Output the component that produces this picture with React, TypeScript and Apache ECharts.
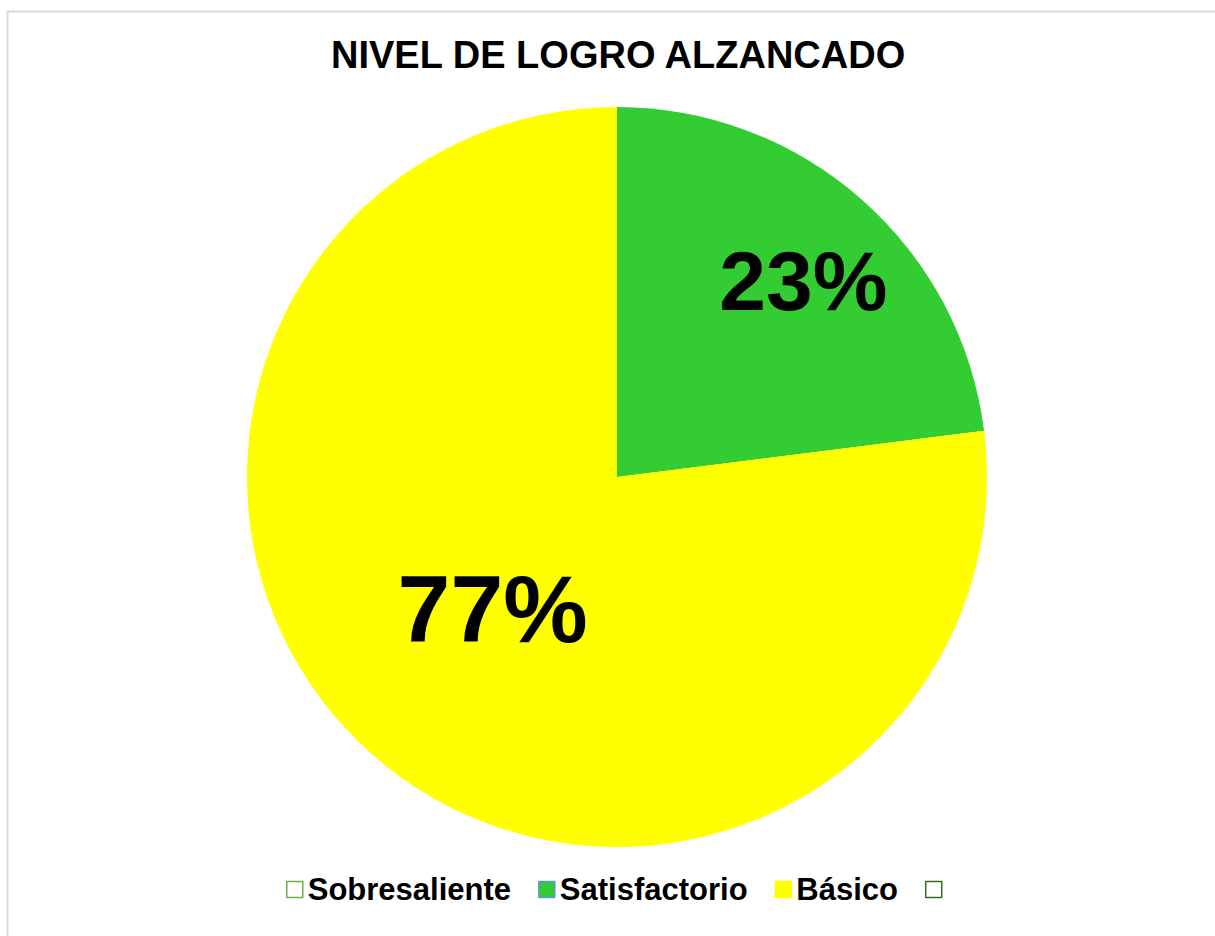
import React, { useEffect, useRef } from "react";
import * as echarts from "echarts";

const titleText = "NIVEL DE LOGRO ALZANCADO";
const categories = ["Sobresaliente", "Satisfactorio", "Básico", " "];
const values = [0, 23, 77, 0];
const fillColors = ["#FFFFFF", "#33CC33", "#FFFF00", "#FFFFFF"];
const legendBorders = ["#70AD47", "#5B9BD5", "#FFFF00", "#3B6B2A"];
const labelSizes = [0, 84, 95, 0];

export default function App() {
  const ref = useRef<HTMLDivElement>(null);
  useEffect(() => {
    if (!ref.current) return;
    const chart = echarts.init(ref.current, null, { renderer: "svg" });
    const font = "'Liberation Sans', Arial, sans-serif";
    chart.setOption({
      animation: false,
      backgroundColor: "#FFFFFF",
      graphic: [
        {
          type: "rect",
          shape: { x: 7.5, y: 11.5, width: 1300, height: 1000 },
          style: { fill: "none", stroke: "#D9D9D9", lineWidth: 2 },
          silent: true,
          z: -10,
        },
      ],
      title: {
        text: titleText,
        left: 326,
        top: 31,
        padding: 5,
        textStyle: {
          fontFamily: font,
          fontWeight: "bold",
          fontSize: 38,
          color: "#000000",
        },
      },
      legend: {
        top: 869,
        left: 281,
        padding: 5,
        itemWidth: 16,
        itemHeight: 16,
        itemGap: 27,
        icon: "rect",
        selectedMode: false,
        textStyle: {
          fontFamily: font,
          fontWeight: "bold",
          fontSize: 31,
          color: "#000000",
        },
        data: categories.map((name, i) => ({
          name,
          itemStyle: {
            color: fillColors[i],
            borderColor: legendBorders[i],
            borderWidth: 1.5,
          },
        })),
      },
      series: [
        {
          type: "pie",
          center: [617, 477],
          radius: 370,
          startAngle: 90,
          clockwise: true,
          avoidLabelOverlap: false,
          label: {
            show: true,
            position: "inside",
            formatter: (p: any) => `${Math.round(p.percent)}%`,
            fontFamily: font,
            fontWeight: "bold",
            color: "#000000",
          },
          labelLine: { show: false },
          labelLayout: (p: any) =>
            p.dataIndex === 1 ? { dx: 62, dy: -55 } : p.dataIndex === 2 ? { dx: 0, dy: -9 } : {},
          emphasis: { disabled: true },
          data: categories.map((name, i) => ({
            name,
            value: values[i],
            itemStyle: { color: fillColors[i] },
            label: values[i] > 0 ? { fontSize: labelSizes[i] } : { show: false },
          })),
        },
      ],
    });
    return () => chart.dispose();
  }, []);
  return (
    <div
      ref={ref}
      style={{ position: "absolute", left: 0, top: 0, width: 1215, height: 936 }}
    />
  );
}
